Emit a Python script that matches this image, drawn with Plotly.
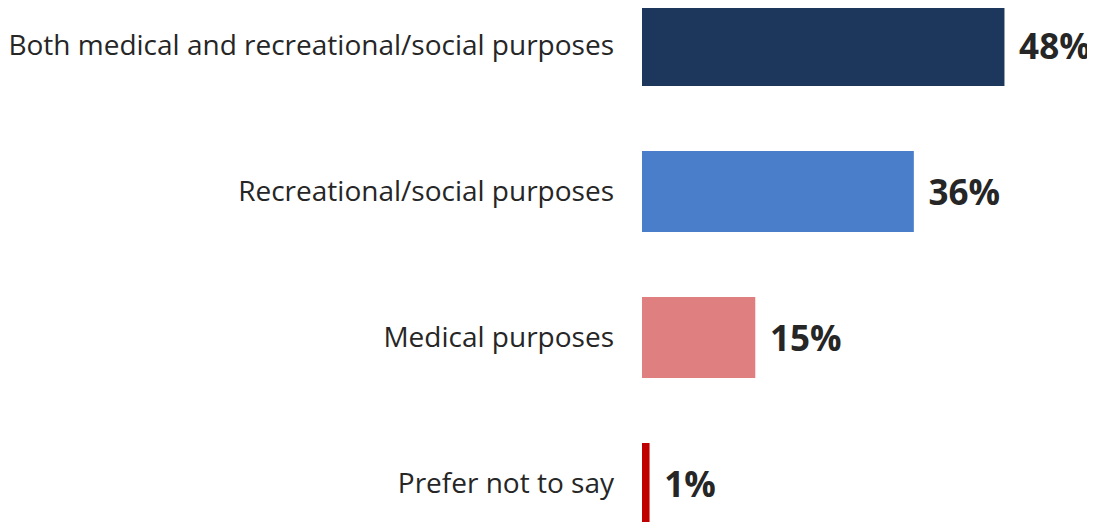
import plotly.graph_objects as go

categories = [
    "Both medical and recreational/social purposes",
    "Recreational/social purposes",
    "Medical purposes",
    "Prefer not to say",
]
values = [48, 36, 15, 1]
colors = ["#1C365C", "#4A7ECB", "#DF7F7F", "#C00000"]

fig = go.Figure(
    go.Bar(
        x=values,
        y=categories,
        orientation="h",
        marker=dict(color=colors, line=dict(width=0)),
        width=0.555,
        text=[f"{v}%" for v in values],
        texttemplate="\u2004%{text}",
        textposition="outside",
        cliponaxis=False,
        textfont=dict(family="Open Sans", size=35, color="#262626", weight="bold"),
    )
)

fig.update_layout(
    width=1095,
    height=522,
    margin=dict(l=631, r=0, t=0, b=0),
    paper_bgcolor="white",
    plot_bgcolor="white",
    showlegend=False,
    xaxis=dict(range=[0, 61.05], visible=False),
    yaxis=dict(
        type="category",
        range=[3.3185, -0.2568],
        showgrid=False,
        zeroline=False,
        showline=False,
        ticks="",
        ticklabelstandoff=27,
        tickfont=dict(family="Open Sans", size=28, color="#262626"),
    ),
)

fig.write_html("out.html")
